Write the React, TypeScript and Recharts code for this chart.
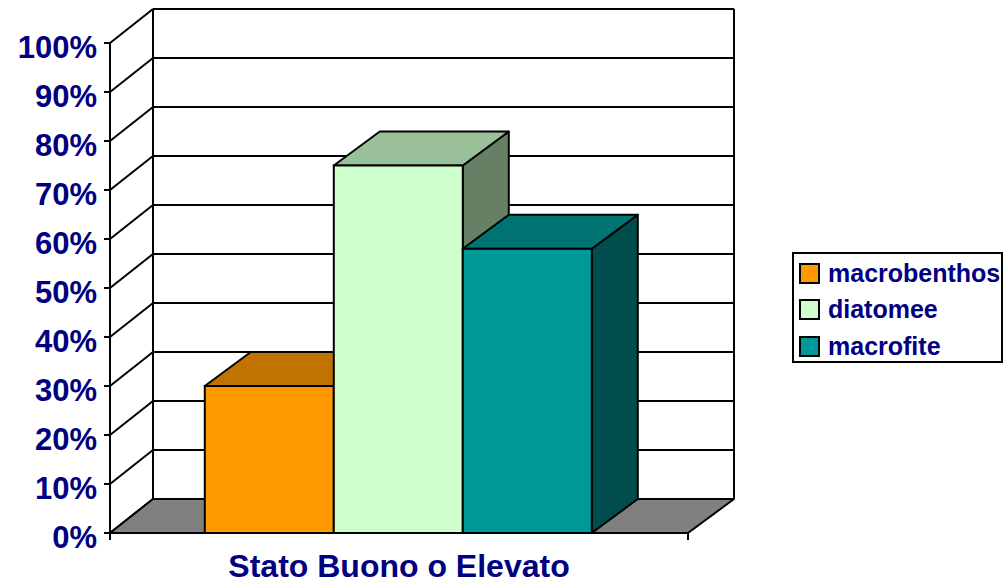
import { BarChart, Bar, XAxis, YAxis, CartesianGrid, Legend, ReferenceArea } from 'recharts';

const categories = ['Stato Buono o Elevato'];
const seriesNames = ['macrobenthos', 'diatomee', 'macrofite'];
const macrobenthos = [30];
const diatomee = [75];
const macrofite = [58];
const yTicks = [0, 10, 20, 30, 40, 50, 60, 70, 80, 90, 100];

const data = categories.map((name, i) => ({
  name,
  macrobenthos: macrobenthos[i],
  diatomee: diatomee[i],
  macrofite: macrofite[i],
}));

const FONT = "Arial, 'Liberation Sans', sans-serif";
const NAVY = '#000080';
// depth of the 3d box
const WALL_DX_L = 43;
const WALL_DX_R = 46;
const BAR_DX = 46;
const DY = -34;

// back wall line + diagonal on the left side wall, for every y tick
const GridLine = (props: any) => {
  const { x1, y1, x2 } = props;
  return (
    <g key={`g-${y1}`}>
      <line x1={x1} y1={y1} x2={x1 + WALL_DX_L} y2={y1 + DY} stroke="#000" strokeWidth={2} />
      <line x1={x1 + WALL_DX_L} y1={y1 + DY} x2={x2 + WALL_DX_R} y2={y1 + DY} stroke="#000" strokeWidth={2} />
    </g>
  );
};

// floor, back wall edges and category-boundary tick marks
const Room = (props: any) => {
  const { x, y, width, height } = props;
  const bottom = y + height;
  const right = x + width;
  const floor = [
    [x, bottom],
    [x + WALL_DX_L, bottom + DY],
    [right + WALL_DX_R, bottom + DY],
    [right, bottom],
  ]
    .map((p) => p.join(','))
    .join(' ');
  return (
    <g>
      <polygon points={floor} fill="#808080" stroke="#000" strokeWidth={2} strokeLinejoin="round" />
      <line x1={x + WALL_DX_L} y1={y + DY} x2={x + WALL_DX_L} y2={bottom + DY} stroke="#000" strokeWidth={2} />
      <line x1={right + WALL_DX_R} y1={y + DY} x2={right + WALL_DX_R} y2={bottom + DY} stroke="#000" strokeWidth={2} />
      <line x1={x} y1={bottom} x2={x} y2={bottom + 7} stroke="#000" strokeWidth={2} />
      <line x1={right} y1={bottom} x2={right} y2={bottom + 7} stroke="#000" strokeWidth={2} />
    </g>
  );
};

const box3D = (topColor: string, sideColor: string) => (props: any) => {
  const { x, y, width, height, fill } = props;
  const r = x + width;
  const b = y + height;
  const top = `${x},${y} ${x + BAR_DX},${y + DY} ${r + BAR_DX},${y + DY} ${r},${y}`;
  const side = `${r},${y} ${r + BAR_DX},${y + DY} ${r + BAR_DX},${b + DY} ${r},${b}`;
  return (
    <g>
      <polygon points={side} fill={sideColor} stroke="#000" strokeWidth={2} strokeLinejoin="round" />
      <polygon points={top} fill={topColor} stroke="#000" strokeWidth={2} strokeLinejoin="round" />
      <rect x={x} y={y} width={width} height={height} fill={fill} stroke="#000" strokeWidth={2} />
    </g>
  );
};

const YTick = (props: any) => {
  const { x, y, payload } = props;
  return (
    <text x={x} y={y + 4} dy="0.355em" textAnchor="end" fill={NAVY} fontSize={31} fontWeight="bold" fontFamily={FONT}>
      {`${payload.value}%`}
    </text>
  );
};

const XTick = (props: any) => {
  const { x, y, payload } = props;
  return (
    <text x={x} y={y + 36} textAnchor="middle" fill={NAVY} fontSize={32} fontWeight="bold" fontFamily={FONT}>
      {payload.value}
    </text>
  );
};

const LegendBox = (props: any) => {
  const items = [...(props.payload || [])].sort(
    (a: any, b: any) => seriesNames.indexOf(a.value) - seriesNames.indexOf(b.value)
  );
  return (
    <div
      style={{
        border: '2px solid #000',
        boxSizing: 'border-box',
        width: 211,
        height: 111,
        background: '#fff',
        paddingTop: 1,
      }}
    >
      {items.map((e: any) => (
        <div key={e.value} style={{ display: 'flex', alignItems: 'center', height: 36.5 }}>
          <span
            style={{
              display: 'inline-block',
              width: 21,
              height: 21,
              boxSizing: 'border-box',
              border: '2px solid #000',
              background: e.color,
              marginLeft: 5,
              marginRight: 8,
            }}
          />
          <span style={{ color: NAVY, fontWeight: 'bold', fontSize: 25, fontFamily: FONT, whiteSpace: 'nowrap' }}>
            {e.value}
          </span>
        </div>
      ))}
    </div>
  );
};

export default function App() {
  return (
    <div style={{ position: 'absolute', left: 0, top: 0, width: 1005, height: 585, background: '#fff' }}>
      <BarChart
        width={1005}
        height={585}
        data={data}
        margin={{ top: 43, right: 317, bottom: 0, left: 10 }}
        barCategoryGap="16.4%"
        barGap={0}
      >
        <CartesianGrid vertical={false} horizontal={GridLine} />
        <ReferenceArea y1={0} y2={100} shape={Room} ifOverflow="visible" zIndex={-50} />
        <XAxis
          dataKey="name"
          height={52}
          axisLine={{ stroke: '#000', strokeWidth: 2 }}
          tickLine={false}
          tick={XTick}
        />
        <YAxis
          domain={[0, 100]}
          ticks={yTicks}
          interval={0}
          width={100}
          tickSize={6}
          tickMargin={7}
          axisLine={{ stroke: '#000', strokeWidth: 2 }}
          tickLine={{ stroke: '#000', strokeWidth: 2 }}
          tick={YTick}
        />
        <Legend
          layout="horizontal"
          align="center"
          verticalAlign="middle"
          content={LegendBox}
          wrapperStyle={{ left: 792, top: 252, width: 211, height: 111 }}
        />
        <Bar dataKey="macrobenthos" fill="#FF9900" shape={box3D('#C07300', '#805000')} isAnimationActive={false} />
        <Bar dataKey="diatomee" fill="#CCFFCC" shape={box3D('#99C099', '#668066')} isAnimationActive={false} />
        <Bar dataKey="macrofite" fill="#009999" shape={box3D('#007373', '#004D4D')} isAnimationActive={false} />
      </BarChart>
    </div>
  );
}
